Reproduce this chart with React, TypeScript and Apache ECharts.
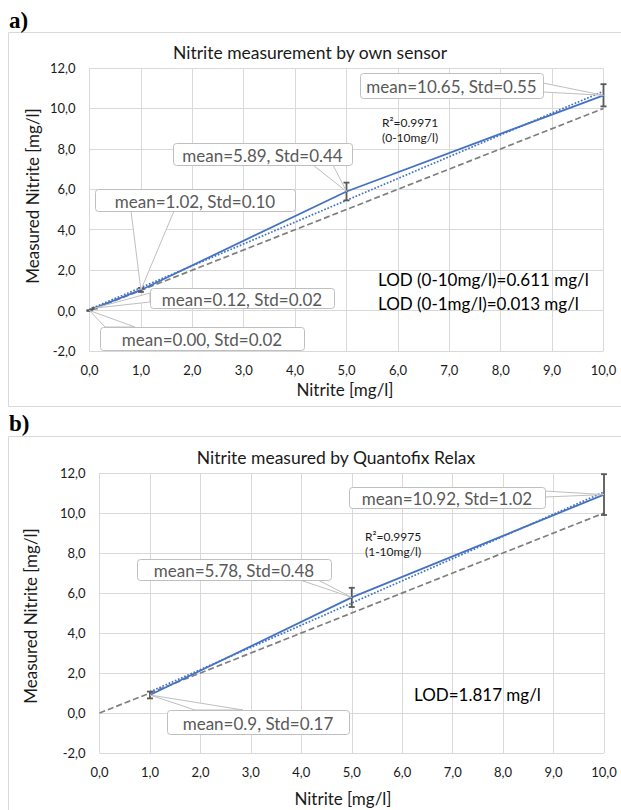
import React, { useEffect, useRef } from "react";
import * as echarts from "echarts";

// ---------- Data: chart a (own sensor) ----------
const aX = [0, 0.1, 1, 5, 10];
const aMean = [0.0, 0.12, 1.02, 5.89, 10.65];
const aStd = [0.02, 0.02, 0.1, 0.44, 0.55];
const aLabels = [
  "mean=0.00, Std=0.02",
  "mean=0.12, Std=0.02",
  "mean=1.02, Std=0.10",
  "mean=5.89, Std=0.44",
  "mean=10.65, Std=0.55",
];
const aTrend = [
  [0, 0.06],
  [10, 10.85],
];
const aR2 = ["R\u00b2=0.9971", "(0-10mg/l)"];
const aLOD = ["LOD (0-10mg/l)=0.611 mg/l", "LOD (0-1mg/l)=0.013 mg/l"];

// ---------- Data: chart b (Quantofix Relax) ----------
const bX = [1, 5, 10];
const bMean = [0.9, 5.78, 10.92];
const bStd = [0.17, 0.48, 1.02];
const bLabels = ["mean=0.9, Std=0.17", "mean=5.78, Std=0.48", "mean=10.92, Std=1.02"];
const bTrend = [
  [1, 1.06],
  [10, 11.05],
];
const bR2 = ["R\u00b2=0.9975", "(1-10mg/l)"];
const bLOD = ["LOD=1.817 mg/l"];

// identity line y = x
const identity = [
  [0, 0],
  [10, 10],
];

const titles = ["Nitrite measurement by own sensor", "Nitrite measured by Quantofix Relax"];
const panelLetters = ["a)", "b)"];
const xTitle = "Nitrite [mg/l]";
const yTitle = "Measured Nitrite [mg/l]";

// ---------- Layout (pixels) ----------
const aCallouts = [
  { box: [100, 327, 204, 23], base: [[105, 327], [135, 327]] },
  { box: [150, 288, 184, 20], base: [[150, 293], [150, 302]] },
  { box: [95, 189, 200, 22], base: [[131, 211], [174, 211]] },
  { box: [173, 143, 179, 22], base: [[313, 165], [333, 165]] },
  { box: [360, 73, 183, 25], base: [[543, 83], [543, 92]] },
];
const bCallouts = [
  { box: [167, 710, 182, 24], base: [[195, 710], [243, 710]] },
  { box: [137, 559, 194, 21], base: [[300, 580], [318, 580]] },
  { box: [349, 487, 196, 21], base: [[545, 491], [545, 497]] },
];

const FONT = "Lato, 'Noto Sans', sans-serif";
const BLUE = "#4472C4";

export default function App() {
  const ref = useRef<HTMLDivElement>(null);

  useEffect(() => {
    const chart = echarts.init(ref.current!, null, { renderer: "svg" });
    const fmt = (v: number) => v.toFixed(1).replace(".", ",");

    const xAxis = (gi: number) => ({
      type: "value",
      gridIndex: gi,
      min: 0,
      max: 10,
      interval: 1,
      axisLine: { show: false },
      axisTick: { show: false },
      splitLine: { show: true, lineStyle: { color: "#d9d9d9", width: 1 } },
      axisLabel: { formatter: fmt, fontFamily: FONT, fontSize: 13, color: "#1a1a1a", margin: 12 },
    });
    const yAxis = (gi: number) => ({
      type: "value",
      gridIndex: gi,
      min: -2,
      max: 12,
      interval: 2,
      axisLine: { show: false },
      axisTick: { show: false },
      splitLine: { show: true, lineStyle: { color: "#d9d9d9", width: 1 } },
      axisLabel: { formatter: fmt, fontFamily: FONT, fontSize: 13, color: "#1a1a1a", margin: 14 },
    });

    const errRender = (params: any, api: any) => {
      const x = api.value(0);
      const lo = api.value(1);
      const hi = api.value(2);
      const p1 = api.coord([x, hi]);
      const p2 = api.coord([x, lo]);
      const c = 3;
      const st = { stroke: "#595959", lineWidth: 1.8 };
      return {
        type: "group",
        children: [
          { type: "line", shape: { x1: p1[0], y1: p1[1], x2: p2[0], y2: p2[1] }, style: st },
          { type: "line", shape: { x1: p1[0] - c, y1: p1[1], x2: p1[0] + c, y2: p1[1] }, style: st },
          { type: "line", shape: { x1: p2[0] - c, y1: p2[1], x2: p2[0] + c, y2: p2[1] }, style: st },
        ],
      };
    };

    const seriesFor = (gi: number, xs: number[], means: number[], stds: number[], trend: number[][]) => [
      {
        type: "line",
        xAxisIndex: gi,
        yAxisIndex: gi,
        data: identity,
        showSymbol: false,
        lineStyle: { color: "#7f7f7f", width: 1.7, type: [6, 3] },
        z: 2,
      },
      {
        type: "line",
        xAxisIndex: gi,
        yAxisIndex: gi,
        data: trend,
        showSymbol: false,
        lineStyle: { color: BLUE, width: 1.7, type: [1.7, 1.7] },
        z: 3,
      },
      {
        type: "line",
        xAxisIndex: gi,
        yAxisIndex: gi,
        data: xs.map((x, i) => [x, means[i]]),
        showSymbol: false,
        lineStyle: { color: BLUE, width: 1.8 },
        z: 4,
      },
      {
        type: "custom",
        xAxisIndex: gi,
        yAxisIndex: gi,
        data: xs.map((x, i) => [x, means[i] - stds[i], means[i] + stds[i]]),
        encode: { x: 0, y: [1, 2] },
        renderItem: errRender,
        z: 5,
      },
    ];

    chart.setOption({
      animation: false,
      grid: [
        { left: 89.5, right: 17.5, top: 68, height: 283 },
        { left: 99.5, right: 17, top: 473, height: 280 },
      ],
      xAxis: [xAxis(0), xAxis(1)],
      yAxis: [yAxis(0), yAxis(1)],
      series: [
        ...seriesFor(0, aX, aMean, aStd, aTrend),
        ...seriesFor(1, bX, bMean, bStd, bTrend),
      ],
    });

    const gfx: any[] = [];
    const txt = (text: string, x: number, y: number, size: number, color: string, align = "left", extra: any = {}) => ({
      type: "text",
      x,
      y,
      z: 20,
      ...extra,
      style: {
        text,
        x: 0,
        y: 0,
        fill: color,
        font: `${extra.bold ? "bold " : ""}${size}px ${extra.family || FONT}`,
        align,
        verticalAlign: "middle",
        textAlign: align,
        textVerticalAlign: "middle",
      },
    });

    // chart frames
    gfx.push({ type: "rect", z: 0, shape: { x: 8.5, y: 32.5, width: 700, height: 374 }, style: { fill: "none", stroke: "#d9d9d9", lineWidth: 1 } });
    gfx.push({ type: "rect", z: 0, shape: { x: 8.5, y: 436.5, width: 700, height: 400 }, style: { fill: "none", stroke: "#d9d9d9", lineWidth: 1 } });

    // panel letters
    gfx.push(txt(panelLetters[0], 9, 20, 23, "#000", "left", { family: "'Liberation Serif', 'DejaVu Serif', serif", bold: true }));
    gfx.push(txt(panelLetters[1], 9, 423, 23, "#000", "left", { family: "'Liberation Serif', 'DejaVu Serif', serif", bold: true }));

    // titles
    gfx.push(txt(titles[0], 310, 52, 17.5, "#1a1a1a", "center"));
    gfx.push(txt(titles[1], 336, 457, 17.5, "#1a1a1a", "center"));
    // axis titles
    gfx.push(txt(xTitle, 345, 389, 17, "#1a1a1a", "center"));
    gfx.push(txt(xTitle, 343, 798, 17, "#1a1a1a", "center"));
    gfx.push(txt(yTitle, 32, 196, 17, "#1a1a1a", "center", { rotation: Math.PI / 2 }));
    gfx.push(txt(yTitle, 30, 616, 17, "#1a1a1a", "center", { rotation: Math.PI / 2 }));

    // R2 and LOD
    gfx.push(txt(aR2[0], 382, 122, 12, "#1a1a1a"));
    gfx.push(txt(aR2[1], 382, 137, 12, "#1a1a1a"));
    gfx.push(txt(bR2[0], 365, 536, 12, "#1a1a1a"));
    gfx.push(txt(bR2[1], 365, 551, 12, "#1a1a1a"));
    gfx.push(txt(aLOD[0], 378, 279, 17, "#000"));
    gfx.push(txt(aLOD[1], 378, 303, 17, "#000"));
    gfx.push(txt(bLOD[0], 414, 694, 17, "#000"));

    // callouts
    const addCallouts = (gi: number, xs: number[], means: number[], labels: string[], layout: any[]) => {
      layout.forEach((c, i) => {
        const p = chart.convertToPixel({ gridIndex: gi } as any, [xs[i], means[i]]) as number[];
        const [bx, by, bw, bh] = c.box;
        gfx.push({
          type: "polygon",
          z: 10,
          shape: { points: [c.base[0], p, c.base[1]] },
          style: { fill: "#fff", stroke: "#bfbfbf", lineWidth: 1 },
        });
        gfx.push({
          type: "rect",
          z: 11,
          shape: { x: bx + 0.5, y: by + 0.5, width: bw, height: bh, r: 3 },
          style: { fill: "#fff", stroke: "#bfbfbf", lineWidth: 1 },
        });
        gfx.push(txt(labels[i], bx + bw / 2, by + bh / 2 + 1, 17, "#595959", "center", { z: 12 }));
      });
    };
    addCallouts(0, aX, aMean, aLabels, aCallouts);
    addCallouts(1, bX, bMean, bLabels, bCallouts);

    chart.setOption({ graphic: gfx });

    return () => chart.dispose();
  }, []);

  return (
    <div
      ref={ref}
      style={{ position: "fixed", left: 0, top: 0, width: 621, height: 810, background: "#fff" }}
    />
  );
}
